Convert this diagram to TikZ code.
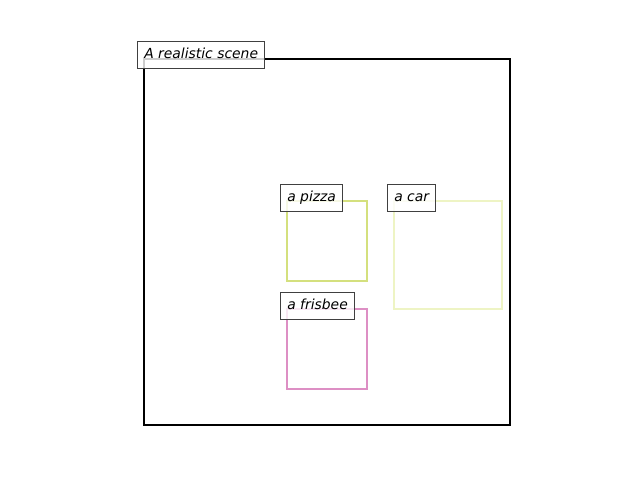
\documentclass[tikz,border=0pt]{standalone}
\usepackage{fontspec}
\setmainfont{DejaVu Sans}
\definecolor{pizzacol}{RGB}{212,224,126}
\definecolor{carcol}{RGB}{238,244,196}
\definecolor{frisbeecol}{RGB}{221,143,196}
\definecolor{labeledge}{RGB}{64,64,64}
\tikzset{
  objbox/.style={line width=1.9pt, line join=miter},
  lbl/.style={draw=labeledge, line width=0.72pt, fill=white, fill opacity=0.8, text opacity=1,
    anchor=north west, inner xsep=4.9pt, inner ysep=0pt, minimum height=19.44pt,
    text height=7.6pt, text depth=2.2pt, font=\fontsize{10pt}{12pt}\selectfont\itshape}
}
\begin{document}
\begin{tikzpicture}[x=0.72pt,y=-0.72pt]
\useasboundingbox (0,0) rectangle (640,480);
\draw[objbox, black] (144,59) rectangle (510,425);
\draw[objbox, pizzacol] (287,201) rectangle (367,281);
\draw[objbox, carcol] (394,201) rectangle (502,309);
\draw[objbox, frisbeecol] (287,309) rectangle (367,389);
\node[lbl] (scene) at (137,40.5) {A realistic scene};
\node[lbl] (pizza) at (280,183.5) {a pizza};
\node[lbl] (car) at (387,183.5) {a car};
\node[lbl] (frisbee) at (280,291.5) {a frisbee};
\end{tikzpicture}
\end{document}
